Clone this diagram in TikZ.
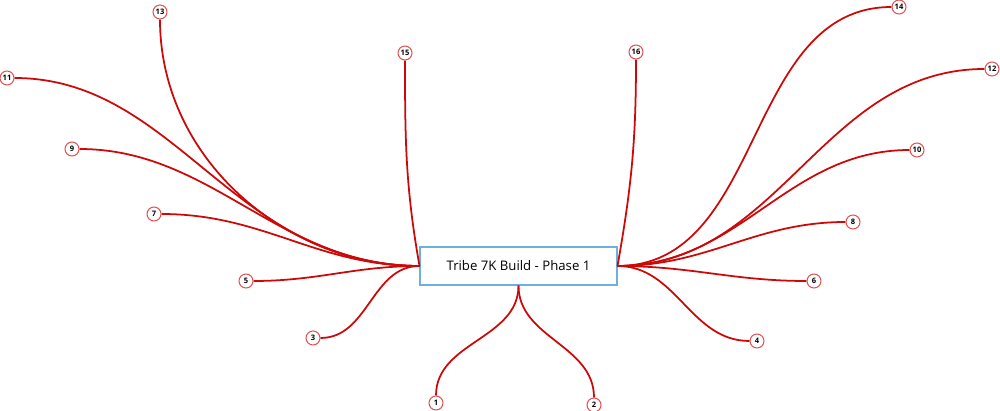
\documentclass[tikz,border=0pt]{standalone}
\usepackage{fontspec}
\setmainfont{Open Sans}
\definecolor{linered}{RGB}{204,8,8}
\definecolor{ringred}{RGB}{228,80,80}
\definecolor{boxblue}{RGB}{110,175,220}
\begin{document}
\begin{tikzpicture}[
    x=0.02cm, y=0.02cm,
    topic/.style={draw=boxblue, line width=0.6pt, minimum width=3.94cm, minimum height=0.76cm, inner sep=0pt, font=\fontsize{7.5}{9}\selectfont},
    sub/.style={circle, draw=ringred, fill=white, line width=0.6pt, minimum size=0.28cm, inner sep=0pt, font=\fontsize{4.3}{4.3}\selectfont\bfseries},
    branch/.style={draw=linered, line width=1pt}
]
\useasboundingbox (0,0) rectangle (1000,-411);

% Central topic
\node[topic] (topic) at (518.5,-266) {Tribe 7K Build - Phase 1};

% Subtopics
\node[sub] (n1) at (436,-403) {1};
\node[sub] (n2) at (594,-405) {2};
\node[sub] (n3) at (313,-338) {3};
\node[sub] (n4) at (757,-341) {4};
\node[sub] (n5) at (246,-281) {5};
\node[sub] (n6) at (814,-281) {6};
\node[sub] (n7) at (154,-214) {7};
\node[sub] (n8) at (853,-222) {8};
\node[sub] (n9) at (72,-149) {9};
\node[sub] (n10) at (917,-150) {10};
\node[sub] (n11) at (7,-78) {11};
\node[sub] (n12) at (992,-69) {12};
\node[sub] (n13) at (160,-12) {13};
\node[sub] (n14) at (899,-7) {14};
\node[sub] (n15) at (405,-53) {15};
\node[sub] (n16) at (636,-52) {16};

% Branches below
\draw[branch] (topic.south) to[out=-90, in=90] (n1);
\draw[branch] (topic.south) to[out=-90, in=90] (n2);

% Branches to the left
\draw[branch] (topic.west) to[out=180, in=0] (n3);
\draw[branch] (topic.west) to[out=180, in=0] (n5);
\draw[branch] (topic.west) to[out=180, in=0] (n7);
\draw[branch] (topic.west) to[out=180, in=0, in looseness=0.95] (n9);
\draw[branch] (topic.west) to[out=180, in=0, out looseness=1.07, in looseness=0.93] (n11);
\draw[branch] (topic.west) to[out=180, in=-90, out looseness=0.95] (n13);
\draw[branch] (topic.west) to[out=100, in=-90] (n15);

% Branches to the right
\draw[branch] (topic.east) to[out=0, in=180] (n4);
\draw[branch] (topic.east) to[out=0, in=180] (n6);
\draw[branch] (topic.east) to[out=0, in=180] (n8);
\draw[branch] (topic.east) to[out=0, in=180] (n10);
\draw[branch] (topic.east) to[out=0, in=180] (n12);
\draw[branch] (topic.east) to[out=0, in=180] (n14);
\draw[branch] (topic.east) to[out=80, in=-90] (n16);

\end{tikzpicture}
\end{document}
